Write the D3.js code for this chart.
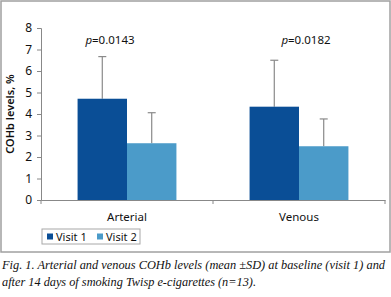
<!DOCTYPE html>
<html>
<head>
<meta charset="utf-8">
<script src="https://cdn.jsdelivr.net/npm/d3@7"></script>
<style>
  body { margin: 0; background: #fff; }
  svg text { font-family: "Noto Sans", "Open Sans", sans-serif; fill: #111; }
</style>
</head>
<body>
<div id="chart"></div>
<script>
var categories = ["Arterial", "Venous"];
var series = ["Visit 1", "Visit 2"];
var means = [[4.71, 2.64], [4.34, 2.5]];
var sds = [[1.96, 1.42], [2.16, 1.27]];
var pValues = ["0.0143", "0.0182"];
var yTicks = [0, 1, 2, 3, 4, 5, 6, 7, 8];
var colors = ["#0a4e96", "#4b9bc9"];

var W = 391, H = 297;
var margin = { top: 28, left: 41, right: 6, bottom: 97 };

var svg = d3.select("#chart").append("svg")
    .attr("width", W)
    .attr("height", H);

// outer frame
svg.append("rect")
    .attr("x", 1).attr("y", 1)
    .attr("width", W - 2).attr("height", 251)
    .attr("fill", "none")
    .attr("stroke", "#a0a0a0")
    .attr("stroke-width", 1.5);

var x0 = d3.scaleBand()
    .domain(categories)
    .range([margin.left, 385]);

var x1 = d3.scaleBand()
    .domain(series)
    .range([0, x0.bandwidth()])
    .paddingOuter(0.74)
    .paddingInner(0);

var y = d3.scaleLinear()
    .domain([0, 8])
    .range([200, 28]);

// y axis
var yAxis = svg.append("g")
    .attr("transform", "translate(" + margin.left + ",0)")
    .call(d3.axisLeft(y).tickValues(yTicks).tickSize(4).tickPadding(5));
yAxis.selectAll("line, path").attr("stroke", "#888");
yAxis.selectAll("text").style("font-size", "12px").attr("fill", "#111");

// x axis
var xAxis = svg.append("g")
    .attr("transform", "translate(0,200)")
    .call(d3.axisBottom(x0).tickSize(0).tickPadding(13));
xAxis.select(".domain").attr("stroke", "#888");
xAxis.selectAll("text").style("font-size", "11.5px").attr("fill", "#111");

// category separators
svg.append("g").selectAll("line")
    .data([margin.left, x0("Venous"), 385])
    .enter().append("line")
    .attr("x1", function (d) { return d; })
    .attr("x2", function (d) { return d; })
    .attr("y1", 200).attr("y2", 204)
    .attr("stroke", "#888");

// y label
svg.append("text")
    .attr("transform", "translate(14,114) rotate(-90)")
    .attr("text-anchor", "middle")
    .style("font-size", "11px")
    .style("font-weight", "600")
    .text("COHb levels, %");

// bars
categories.forEach(function (c, i) {
    var g = svg.append("g").attr("transform", "translate(" + x0(c) + ",0)");
    series.forEach(function (s, j) {
        var bx = x1(s), bw = x1.bandwidth();
        var cx = bx + bw / 2;
        g.append("line")
            .attr("x1", cx).attr("x2", cx)
            .attr("y1", y(means[i][j])).attr("y2", y(means[i][j] + sds[i][j]))
            .attr("stroke", "#8a8a8a").attr("stroke-width", 1.2);
        g.append("line")
            .attr("x1", cx - 4).attr("x2", cx + 4)
            .attr("y1", y(means[i][j] + sds[i][j])).attr("y2", y(means[i][j] + sds[i][j]))
            .attr("stroke", "#8a8a8a").attr("stroke-width", 1.2);
        g.append("rect")
            .attr("x", bx)
            .attr("y", y(means[i][j]))
            .attr("width", bw)
            .attr("height", y(0) - y(means[i][j]))
            .attr("fill", colors[j]);
    });
    var pt = g.append("text")
        .attr("x", x0.bandwidth() / 2 + (i === 0 ? -17 : 7))
        .attr("y", 44)
        .attr("text-anchor", "middle")
        .style("font-size", "11.5px");
    pt.append("tspan").style("font-style", "italic").text("p");
    pt.append("tspan").text("=" + pValues[i]);
});

// legend
var lg = svg.append("g").attr("transform", "translate(42,229)");
lg.append("rect")
    .attr("width", 98).attr("height", 15)
    .attr("fill", "#fff").attr("stroke", "#a8a8a8");
series.forEach(function (s, j) {
    var item = lg.append("g").attr("transform", "translate(" + (5 + j * 50) + ",0)");
    item.append("rect")
        .attr("x", 0).attr("y", 4.5)
        .attr("width", 6).attr("height", 6)
        .attr("fill", colors[j]);
    item.append("text")
        .attr("x", 9).attr("y", 12)
        .style("font-size", "11px")
        .text(s);
});

// caption
var caption = ["Fig. 1. Arterial and venous COHb levels (mean \u00b1SD) at baseline (visit 1) and",
               "after 14 days of smoking Twisp e-cigarettes (n=13)."];
var capWidths = [383, 254];
svg.append("g").selectAll("text")
    .data(caption)
    .enter().append("text")
    .attr("x", 2)
    .attr("y", function (d, i) { return 269 + i * 17; })
    .attr("textLength", function (d, i) { return capWidths[i]; })
    .attr("lengthAdjust", "spacingAndGlyphs")
    .style("font-family", "'Liberation Serif', serif")
    .style("font-style", "italic")
    .style("font-size", "12.3px")
    .attr("fill", "#222")
    .text(function (d) { return d; });
</script>
</body>
</html>
